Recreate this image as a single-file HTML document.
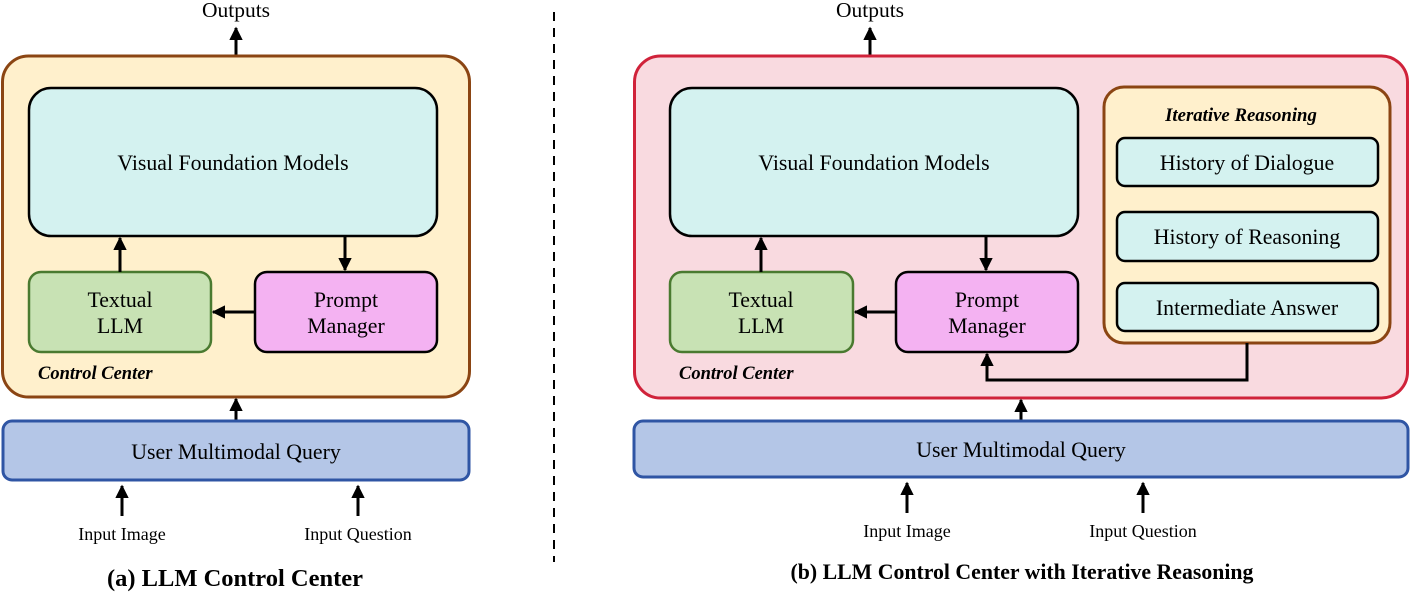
<!DOCTYPE html>
<html><head><meta charset="utf-8"><style>
html,body{margin:0;padding:0;background:#fff;}
svg{display:block;}
text{font-family:"Liberation Serif",serif;fill:#000;}
</style></head><body>
<svg width="1411" height="593" viewBox="0 0 1411 593" xmlns="http://www.w3.org/2000/svg">
<defs>
<marker id="ah" viewBox="0 0 10 10" refX="9" refY="5" markerWidth="4.5" markerHeight="4.5" orient="auto-start-reverse" markerUnits="strokeWidth">
<path d="M0,0 L10,5 L0,10 z" fill="#000"/>
</marker>
</defs>
<!-- LEFT -->
<text x="236" y="17" font-size="21.5" text-anchor="middle">Outputs</text>
<line x1="236" y1="56" x2="236" y2="28" stroke="#000" stroke-width="3" marker-end="url(#ah)"/>
<rect x="2.5" y="56" width="467" height="341" rx="26" fill="#FFF0CC" stroke="#8B4513" stroke-width="3"/>
<rect x="29" y="88" width="408" height="148" rx="22" fill="#D4F2F0" stroke="#000" stroke-width="2.5"/>
<text x="233" y="170" font-size="21.8" text-anchor="middle">Visual Foundation Models</text>
<rect x="29" y="272" width="182" height="80" rx="12" fill="#C8E2B4" stroke="#4A7A30" stroke-width="2.5"/>
<text x="120" y="307" font-size="21.8" text-anchor="middle">Textual</text>
<text x="120" y="333" font-size="21.8" text-anchor="middle">LLM</text>
<rect x="255" y="272" width="182" height="80" rx="12" fill="#F4B2F2" stroke="#000" stroke-width="2.5"/>
<text x="346" y="307" font-size="21.8" text-anchor="middle">Prompt</text>
<text x="346" y="333" font-size="21.8" text-anchor="middle">Manager</text>
<line x1="120" y1="272" x2="120" y2="238" stroke="#000" stroke-width="3" marker-end="url(#ah)"/>
<line x1="345" y1="236" x2="345" y2="270" stroke="#000" stroke-width="3" marker-end="url(#ah)"/>
<line x1="255" y1="312" x2="213" y2="312" stroke="#000" stroke-width="3" marker-end="url(#ah)"/>
<text x="38" y="379" font-size="18.5" font-weight="bold" font-style="italic">Control Center</text>
<line x1="236" y1="421" x2="236" y2="399" stroke="#000" stroke-width="3" marker-end="url(#ah)"/>
<rect x="3" y="421" width="466" height="59" rx="9" fill="#B4C6E7" stroke="#2F55A4" stroke-width="3"/>
<text x="236" y="459" font-size="21.8" text-anchor="middle">User Multimodal Query</text>
<line x1="122" y1="516" x2="122" y2="486" stroke="#000" stroke-width="3" marker-end="url(#ah)"/>
<line x1="358" y1="516" x2="358" y2="486" stroke="#000" stroke-width="3" marker-end="url(#ah)"/>
<text x="122" y="540" font-size="18" text-anchor="middle">Input Image</text>
<text x="358" y="540" font-size="18" text-anchor="middle">Input Question</text>
<text x="235" y="586" font-size="24.5" font-weight="bold" text-anchor="middle">(a) LLM Control Center</text>
<line x1="554" y1="12" x2="554" y2="562" stroke="#000" stroke-width="2" stroke-dasharray="9,7"/>
<!-- RIGHT -->
<text x="870" y="17" font-size="21.5" text-anchor="middle">Outputs</text>
<line x1="870" y1="56" x2="870" y2="28" stroke="#000" stroke-width="3" marker-end="url(#ah)"/>
<rect x="634.5" y="56" width="773" height="342" rx="26" fill="#F9DAE0" stroke="#D0223A" stroke-width="3"/>
<rect x="670" y="88" width="408" height="148" rx="22" fill="#D4F2F0" stroke="#000" stroke-width="2.5"/>
<text x="874" y="170" font-size="21.8" text-anchor="middle">Visual Foundation Models</text>
<rect x="670" y="272" width="183" height="80" rx="12" fill="#C8E2B4" stroke="#4A7A30" stroke-width="2.5"/>
<text x="761" y="307" font-size="21.8" text-anchor="middle">Textual</text>
<text x="761" y="333" font-size="21.8" text-anchor="middle">LLM</text>
<rect x="896" y="272" width="182" height="80" rx="12" fill="#F4B2F2" stroke="#000" stroke-width="2.5"/>
<text x="987" y="307" font-size="21.8" text-anchor="middle">Prompt</text>
<text x="987" y="333" font-size="21.8" text-anchor="middle">Manager</text>
<line x1="761" y1="272" x2="761" y2="238" stroke="#000" stroke-width="3" marker-end="url(#ah)"/>
<line x1="986" y1="236" x2="986" y2="270" stroke="#000" stroke-width="3" marker-end="url(#ah)"/>
<line x1="896" y1="312" x2="855" y2="312" stroke="#000" stroke-width="3" marker-end="url(#ah)"/>
<text x="679" y="379" font-size="18.5" font-weight="bold" font-style="italic">Control Center</text>
<rect x="1104" y="87" width="286" height="256" rx="20" fill="#FFF0CC" stroke="#8B4513" stroke-width="3"/>
<text x="1241" y="121" font-size="18.8" font-weight="bold" font-style="italic" text-anchor="middle">Iterative Reasoning</text>
<rect x="1117" y="138" width="261" height="48" rx="8" fill="#D4F2F0" stroke="#000" stroke-width="2.5"/>
<text x="1247" y="170" font-size="21.8" text-anchor="middle">History of Dialogue</text>
<rect x="1117" y="212" width="261" height="49" rx="8" fill="#D4F2F0" stroke="#000" stroke-width="2.5"/>
<text x="1247" y="244" font-size="21.8" text-anchor="middle">History of Reasoning</text>
<rect x="1117" y="283" width="261" height="48" rx="8" fill="#D4F2F0" stroke="#000" stroke-width="2.5"/>
<text x="1247" y="315" font-size="21.8" text-anchor="middle">Intermediate Answer</text>
<polyline points="1247,343 1247,380 987,380 987,354" fill="none" stroke="#000" stroke-width="3" marker-end="url(#ah)"/>
<line x1="1021" y1="421" x2="1021" y2="400" stroke="#000" stroke-width="3" marker-end="url(#ah)"/>
<rect x="634" y="421" width="774" height="56" rx="9" fill="#B4C6E7" stroke="#2F55A4" stroke-width="3"/>
<text x="1021" y="457" font-size="21.8" text-anchor="middle">User Multimodal Query</text>
<line x1="907" y1="513" x2="907" y2="483" stroke="#000" stroke-width="3" marker-end="url(#ah)"/>
<line x1="1143" y1="513" x2="1143" y2="483" stroke="#000" stroke-width="3" marker-end="url(#ah)"/>
<text x="907" y="537" font-size="18" text-anchor="middle">Input Image</text>
<text x="1143" y="537" font-size="18" text-anchor="middle">Input Question</text>
<text x="1022" y="579" font-size="21.8" font-weight="bold" text-anchor="middle">(b) LLM Control Center with Iterative Reasoning</text>
</svg>
</body></html>
